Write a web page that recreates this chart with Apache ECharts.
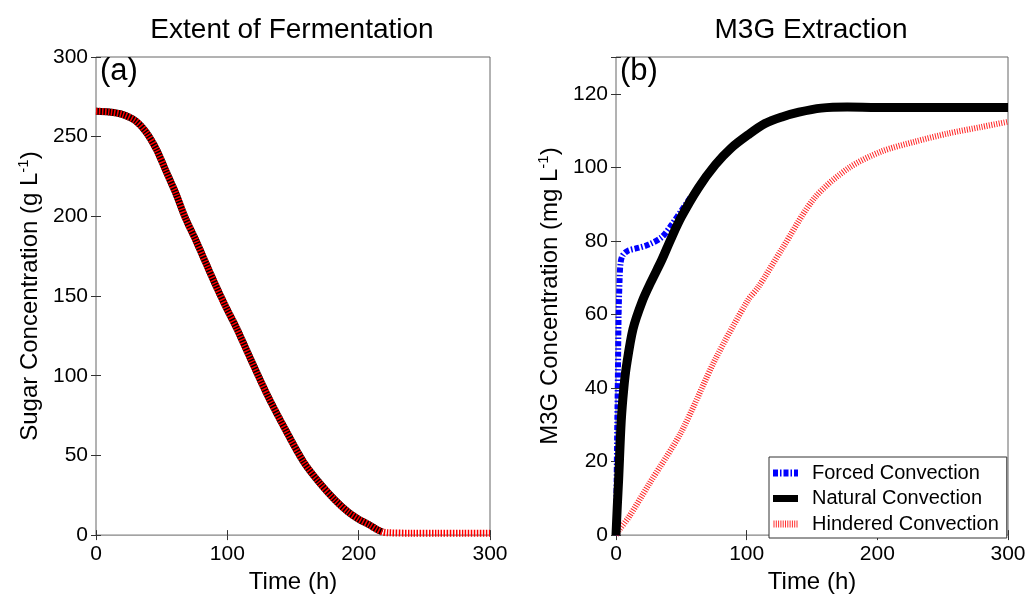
<!DOCTYPE html>
<html>
<head>
<meta charset="utf-8">
<script src="https://cdn.jsdelivr.net/npm/echarts@6/dist/echarts.min.js"></script>
<style>
  html, body { margin: 0; padding: 0; background: #fff; }
  #main { width: 1032px; height: 599px; }
</style>
</head>
<body>
<div id="main"></div>
<script>
// (a) sugar concentration vs time
const sugarTime = [0, 10, 20, 30, 38, 46, 53, 61, 68, 76, 84, 91, 99, 107, 118, 131, 145, 158, 170, 182, 192, 200, 208, 214, 218, 222, 240, 260, 280, 300];
const sugarConc = [266, 265.5, 264, 260, 253, 242, 229, 214, 199, 185, 170, 157, 143, 130, 110, 87, 65, 46, 33, 22, 14.5, 10, 6.5, 3.5, 2, 1.5, 1.2, 1.2, 1.2, 1.2];
const sugarBlackEnd = 220;

// (b) M3G extraction
const forcedTime = [0, 0.5, 1, 1.5, 2, 2.8, 3.5, 5, 9, 16, 25, 35, 43, 50, 58];
const forcedM3G = [0, 15, 30, 45, 60, 70, 74, 76, 77.3, 78, 79, 81, 84.6, 88.2, 92.3];

const naturalTime = [0, 1, 2, 4, 6, 8, 13, 20, 27, 35, 42, 50, 63, 76, 88, 101, 114, 127, 140, 157, 177, 200, 250, 300];
const naturalM3G = [0, 8, 15, 31, 40, 46, 56, 63.5, 69, 74.8, 80.5, 86.5, 94.4, 100.7, 105.2, 108.8, 111.9, 113.7, 115, 116.1, 116.4, 116.3, 116.3, 116.3];

const hinderedTime = [0, 2, 10, 25, 50, 76, 101, 109, 127, 152, 178, 203, 229, 254, 280, 300];
const hinderedM3G = [0, 1.2, 5, 13.7, 28.1, 47.8, 63.9, 67.5, 77.8, 91.7, 99.8, 104.3, 107, 109.2, 111, 112.4];

const seriesNames = ['Forced Convection', 'Natural Convection', 'Hindered Convection'];

function pairs(xs, ys) {
  return xs.map((x, i) => [x, ys[i]]);
}

const font = 'Liberation Sans, Arial, sans-serif';
const frame = '#666';

// legend swatches drawn like the line styles
const iconForced = 'path://M0,0h5v7h-5z M7,0h1.5v7h-1.5z M10.5,0h5v7h-5z M17.5,0h1.5v7h-1.5z M21,0h4v7h-4z';
const iconNatural = 'path://M0,0h25v7h-25z';
let stripes = '';
for (let i = 0; i < 11; i++) {
  stripes += 'M' + (i * 2.3) + ',0h1v7h-1z ';
}
const iconHindered = 'path://' + stripes;

function mainX(gridIndex, max, interval) {
  return {
    type: 'value', gridIndex: gridIndex, min: 0, max: max, interval: interval,
    axisLine: { show: false },
    axisTick: { show: true, inside: true, length: 5, lineStyle: { color: '#333' } },
    axisLabel: { color: '#000', fontSize: 21, fontFamily: font, margin: 9 },
    splitLine: { show: false },
    name: 'Time (h)', nameLocation: 'middle', nameGap: 33,
    nameTextStyle: { color: '#000', fontSize: 24, fontFamily: font }
  };
}
function topX(gridIndex, max, interval) {
  return {
    type: 'value', gridIndex: gridIndex, position: 'top', min: 0, max: max, interval: interval,
    axisLine: { show: false },
    axisTick: { show: true, inside: true, length: 5, lineStyle: { color: '#333' } },
    axisLabel: { show: false }, splitLine: { show: false }
  };
}
function mainY(gridIndex, max, interval, nameRich, gap) {
  return {
    type: 'value', gridIndex: gridIndex, min: 0, max: max, interval: interval,
    axisLine: { show: false },
    axisTick: { show: true, inside: true, length: 5, lineStyle: { color: '#333' } },
    axisLabel: {
      color: '#000', fontSize: 21, fontFamily: font, margin: 8,
      formatter: function (v) { return v > 120 && max === 130 ? '' : String(v); }
    },
    splitLine: { show: false },
    name: nameRich, nameLocation: 'middle', nameGap: gap,
    nameTextStyle: {
      color: '#000', fontSize: 24, fontFamily: font,
      rich: {
        a: { fontSize: 24, fontFamily: font, color: '#000' },
        s: { fontSize: 15, fontFamily: font, color: '#000', verticalAlign: 'top', padding: [0, 0, 13, 0] }
      }
    }
  };
}
function rightY(gridIndex, max, interval) {
  return {
    type: 'value', gridIndex: gridIndex, position: 'right', min: 0, max: max, interval: interval,
    axisLine: { show: false },
    axisTick: { show: true, inside: true, length: 5, lineStyle: { color: '#333' } },
    axisLabel: { show: false }, splitLine: { show: false }
  };
}

const chart = echarts.init(document.getElementById('main'));

const option = {
  backgroundColor: '#fff',
  animation: false,
  grid: [
    { left: 96, top: 57, width: 394, height: 484, show: true, borderColor: frame, borderWidth: 1, backgroundColor: 'transparent' },
    { left: 616, top: 57, width: 392, height: 484, show: true, borderColor: frame, borderWidth: 1, backgroundColor: 'transparent' }
  ],
  xAxis: [
    mainX(0, 300, 100),
    topX(0, 300, 100),
    mainX(1, 300, 100),
    topX(1, 300, 100)
  ],
  yAxis: [
    mainY(0, 300, 50, '{a|Sugar Concentration (g L}{s|-1}{a|)}', 52),
    rightY(0, 300, 50),
    mainY(1, 130, 20, '{a|M3G Concentration (mg L}{s|-1}{a|)}', 52),
    rightY(1, 130, 20)
  ],
  legend: {
    data: [
      { name: seriesNames[0], icon: iconForced },
      { name: seriesNames[1], icon: iconNatural },
      { name: seriesNames[2], icon: iconHindered }
    ],
    orient: 'vertical',
    left: 769, top: 457,
    padding: [6, 8, 4, 4],
    itemGap: 5.5,
    itemWidth: 25, itemHeight: 7,
    backgroundColor: '#fff',
    borderColor: '#333', borderWidth: 1, borderRadius: 0,
    textStyle: { color: '#000', fontSize: 20, fontFamily: font, padding: [0, 0, 0, 9] }
  },
  graphic: [
    { type: 'text', x: 292, y: 16, style: { text: 'Extent of Fermentation', fill: '#000', font: '28px ' + font, textAlign: 'center' } },
    { type: 'text', x: 811, y: 16, style: { text: 'M3G Extraction', fill: '#000', font: '28px ' + font, textAlign: 'center' } },
    { type: 'text', x: 100, y: 56, style: { text: '(a)', fill: '#000', font: '31px ' + font } },
    { type: 'text', x: 620, y: 56, style: { text: '(b)', fill: '#000', font: '31px ' + font } }
  ],
  series: [
    {
      name: 'Sugar model', type: 'line', xAxisIndex: 0, yAxisIndex: 0,
      data: pairs(sugarTime, sugarConc).filter(p => p[0] <= sugarBlackEnd),
      symbol: 'none', smooth: 0.3,
      lineStyle: { color: '#000', width: 7 }
    },
    {
      name: 'Sugar data', type: 'line', xAxisIndex: 0, yAxisIndex: 0,
      data: pairs(sugarTime, sugarConc),
      symbol: 'none', smooth: 0.3,
      lineStyle: { color: '#ff0000', width: 7, type: [1.5, 1.5] }
    },
    {
      name: seriesNames[2], type: 'line', xAxisIndex: 2, yAxisIndex: 2,
      data: pairs(hinderedTime, hinderedM3G),
      symbol: 'none', smooth: 0.3,
      itemStyle: { color: '#ff3030' },
      lineStyle: { color: '#ff0000', width: 6, type: [1, 1.5], opacity: 0.85 }
    },
    {
      name: seriesNames[0], type: 'line', xAxisIndex: 2, yAxisIndex: 2,
      data: pairs(forcedTime, forcedM3G),
      symbol: 'none', smooth: 0.3,
      itemStyle: { color: '#0000ff' },
      lineStyle: { color: '#0000ff', width: 6, type: [5, 2, 1.5, 2] }
    },
    {
      name: seriesNames[1], type: 'line', xAxisIndex: 2, yAxisIndex: 2,
      data: pairs(naturalTime, naturalM3G),
      symbol: 'none', smooth: 0.3,
      itemStyle: { color: '#000' },
      lineStyle: { color: '#000', width: 9 }
    }
  ]
};

chart.setOption(option);
</script>
</body>
</html>
